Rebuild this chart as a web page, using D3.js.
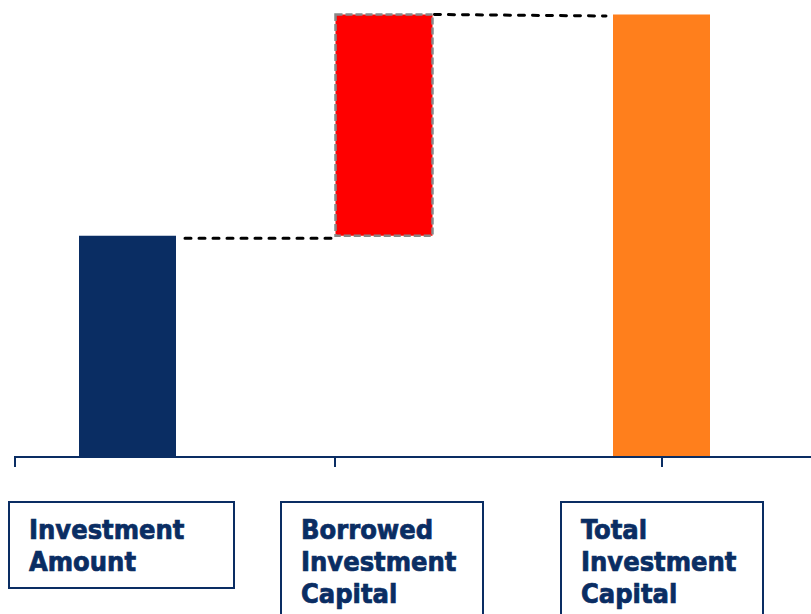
<!DOCTYPE html>
<html>
<head>
<meta charset="utf-8">
<script src="https://cdn.jsdelivr.net/npm/d3@7"></script>
<style>
    html, body { margin: 0; padding: 0; background: #fff; }
    svg { display: block; }
    .label { font-family: "DejaVu Sans Condensed", "DejaVu Sans", sans-serif; font-stretch: condensed; font-weight: bold; font-size: 27px; fill: #0a2d63; stroke: #0a2d63; stroke-width: 0.7px; }
</style>
</head>
<body>
<div class="chart"></div>
<script>
// waterfall data
let categories = ['Investment Amount', 'Borrowed Investment Capital', 'Total Investment Capital'];
let labelLines = [['Investment', 'Amount'], ['Borrowed', 'Investment', 'Capital'], ['Total', 'Investment', 'Capital']];
let starts = [0, 50, 0];
let values = [50, 50, 100];
let kinds = ['base', 'delta', 'total'];

let width = 811, height = 614;
let navy = '#0a2d63';

let svg = d3.select('.chart')
    .append('svg')
    .attr('width', width)
    .attr('height', height);

// y scale
let y = d3.scaleLinear()
    .domain([0, 100])
    .range([457, 14.5]);

// bar centres are not evenly spread in the original, so map them by hand
let x = d3.scaleOrdinal()
    .domain(categories)
    .range([127.5, 384, 661.5]);
let barW = 97;

// tick positions on the axis
let tickX = d3.scaleOrdinal()
    .domain(d3.range(3))
    .range([15, 335, 662]);

let color = d3.scaleOrdinal()
    .domain(kinds)
    .range([navy, '#ff0000', '#ff7f1c']);

let rows = categories.map((c, i) => ({
    name: c,
    lines: labelLines[i],
    y0: starts[i],
    y1: starts[i] + values[i],
    kind: kinds[i]
}));

// connectors
let connectors = [
    {x1: x(categories[0]) + barW / 2 + 9, x2: x(categories[1]) - barW / 2 - 2, v: rows[0].y1},
    {x1: x(categories[1]) + barW / 2 + 2, x2: x(categories[2]) - barW / 2 - 7, v: rows[1].y1}
];
svg.append('g')
    .selectAll('line')
    .data(connectors)
    .enter()
    .append('line')
    .attr('x1', d => d.x1)
    .attr('x2', d => d.x2)
    .attr('y1', (d, i) => y(d.v) + (i == 0 ? 2.5 : 0))
    .attr('y2', (d, i) => y(d.v) + (i == 0 ? 2.5 : 1.5))
    .attr('stroke', '#000')
    .attr('stroke-width', 3)
    .attr('stroke-linecap', 'round')
    .attr('stroke-dasharray', '6,8');

// bars
svg.append('g')
    .selectAll('rect')
    .data(rows)
    .enter()
    .append('rect')
    .attr('x', d => x(d.name) - barW / 2)
    .attr('y', d => y(d.y1))
    .attr('width', barW)
    .attr('height', d => y(d.y0) - y(d.y1))
    .attr('fill', d => color(d.kind))
    .attr('stroke', d => d.kind == 'delta' ? '#888' : 'none')
    .attr('stroke-width', 2.5)
    .attr('stroke-dasharray', '7,3');

// axis line + ticks
svg.append('line')
    .attr('x1', 15).attr('x2', width)
    .attr('y1', 457).attr('y2', 457)
    .attr('stroke', navy)
    .attr('stroke-width', 2);
svg.append('g')
    .selectAll('line')
    .data(d3.range(3))
    .enter()
    .append('line')
    .attr('x1', d => tickX(d)).attr('x2', d => tickX(d))
    .attr('y1', 456).attr('y2', 467)
    .attr('stroke', navy)
    .attr('stroke-width', 2);

// label boxes
let boxX = d3.scaleOrdinal().domain(categories).range([9, 281, 561]);
let boxW = [225, 202, 202];
let boxH = [86, 130, 130];

let boxes = svg.append('g')
    .selectAll('g')
    .data(rows)
    .enter()
    .append('g')
    .attr('transform', d => 'translate(' + boxX(d.name) + ',502)');

boxes.append('rect')
    .attr('width', (d, i) => boxW[i])
    .attr('height', (d, i) => boxH[i])
    .attr('fill', 'none')
    .attr('stroke', navy)
    .attr('stroke-width', 2);

boxes.each(function(d) {
    d3.select(this).selectAll('text')
        .data(d.lines)
        .enter()
        .append('text')
        .attr('class', 'label')
        .attr('x', 20)
        .attr('y', (t, j) => 37 + j * 32)
        .text(t => t);
});
</script>
</body>
</html>
